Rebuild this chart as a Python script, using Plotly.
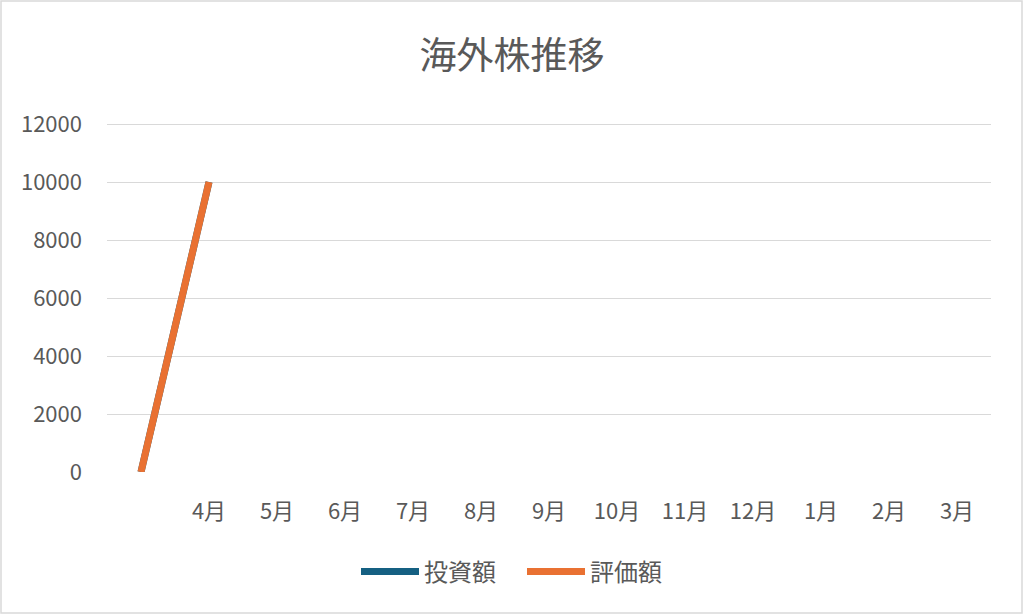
import plotly.graph_objects as go

# 月ラベル (先頭は空のカテゴリ)
months = ["", "4月", "5月", "6月", "7月", "8月", "9月", "10月", "11月", "12月", "1月", "2月", "3月"]
invested = [0, 10000, None, None, None, None, None, None, None, None, None, None, None]
valuation = [0, 10000, None, None, None, None, None, None, None, None, None, None, None]
y_ticks = [0, 2000, 4000, 6000, 8000, 10000, 12000]

font_family = "Noto Sans CJK JP, Noto Sans, sans-serif"
grey = "#595959"

fig = go.Figure()

fig.add_trace(go.Scatter(
    x=list(range(len(months))), y=invested, name="投資額",
    mode="lines", line=dict(color="#156082", width=7),
))
fig.add_trace(go.Scatter(
    x=list(range(len(months))), y=valuation, name="評価額",
    mode="lines", line=dict(color="#E97132", width=7),
))

# plot area in pixels: x 107..991, y 121..472 (a little headroom so the 12000 grid line shows)
W, H = 1024, 615
l, r, t, b = 107, 33, 121, 143
pw, ph = W - l - r, H - t - b
y_top = 12000 * ph / 348

fig.update_layout(
    width=W, height=H, autosize=False,
    margin=dict(l=l, r=r, t=t, b=b, autoexpand=False),
    paper_bgcolor="white", plot_bgcolor="white",
    font=dict(family=font_family, color=grey),
    title=dict(text="海外株推移", x=0.5, xanchor="center", y=1 - 56 / H, yanchor="middle",
               font=dict(size=37, color=grey, family=font_family)),
    showlegend=True,
    legend=dict(orientation="h", x=(522 - l) / pw, xanchor="center",
                y=-(572 - 472) / ph, yanchor="middle", itemwidth=58,
                entrywidth=93, entrywidthmode="pixels",
                font=dict(size=24, color=grey)),
    xaxis=dict(
        tickmode="array", tickvals=list(range(len(months))), ticktext=months,
        range=[-0.5, len(months) - 0.5], showgrid=False, zeroline=False,
        showline=False, ticks="", tickfont=dict(size=22, color=grey),
        ticklabelstandoff=24, automargin=False, fixedrange=True,
    ),
    yaxis=dict(
        range=[0, y_top], tickmode="array", tickvals=y_ticks,
        ticktext=[str(v) for v in y_ticks],
        showgrid=True, gridcolor="#D9D9D9", gridwidth=1.3, zeroline=False,
        showline=False, ticks="", tickfont=dict(size=22, color=grey),
        ticklabelstandoff=24, automargin=False, fixedrange=True,
    ),
    shapes=[dict(type="rect", xref="paper", yref="paper",
                 x0=(1 - l) / pw, x1=(1022 - l) / pw,
                 y0=(472 - 613) / ph, y1=(472 - 1) / ph,
                 line=dict(color="#D9D9D9", width=1.5), fillcolor="rgba(0,0,0,0)")],
)

fig.write_html("out.html", config={"displayModeBar": False},
               post_script="document.body.style.margin='0px';")
